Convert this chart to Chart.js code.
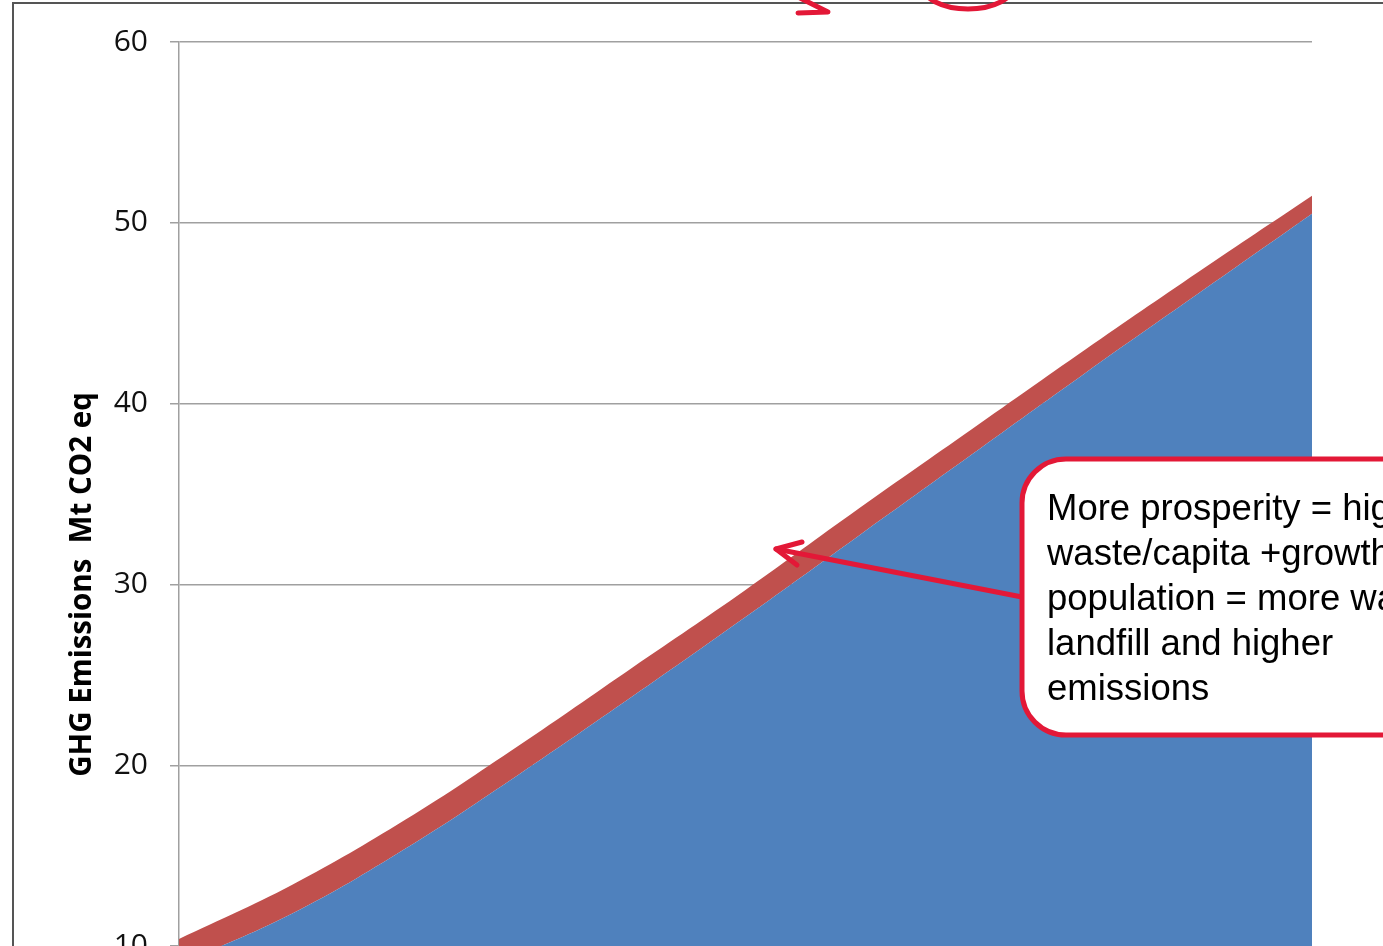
<!DOCTYPE html>
<html>
<head>
<meta charset="utf-8">
<script src="https://cdn.jsdelivr.net/npm/chart.js@4.4.1/dist/chart.umd.min.js"></script>
<style>
  body { margin: 0; overflow: hidden; background: #fff; }
  #wrap { position: absolute; left: 0; top: 0; width: 1383px; height: 946px; overflow: hidden; }
</style>
</head>
<body>
<div id="wrap"><canvas id="ghgChart" width="1383" height="1200"></canvas></div>
<script>
// Categories (x axis is cropped out of the picture)
const years = ['2000', '2005', '2010', '2015', '2020', '2025', '2030', '2035', '2040', '2045', '2050'];

// Stacked series, Mt CO2 eq
const landfillBase = [9.0, 11.8, 15.4, 19.5, 23.8, 28.2, 32.7, 37.2, 41.7, 46.1, 50.5];
const growthBand = [1.4, 1.6, 1.6, 1.6, 1.6, 1.5, 1.5, 1.4, 1.3, 1.2, 1.0];

const yMin = 0, yMax = 60, yStep = 10;
const yTitle = 'GHG Emissions  Mt CO2 eq';

const noteLines = [
  'More prosperity = higher',
  'waste/capita +growth in',
  'population = more waste to',
  'landfill and higher',
  'emissions'
];

const ctx = document.getElementById('ghgChart').getContext('2d');
const RED = '#e31837';

// frame, callout box, arrows drawn over the chart
const overlay = {
  id: 'overlay',
  afterDraw(chart) {
    const c = chart.ctx;
    c.save();

    // outer frame
    c.strokeStyle = '#555';
    c.lineWidth = 2;
    c.beginPath();
    c.moveTo(13, 1400);
    c.lineTo(13, 3);
    c.lineTo(1400, 3);
    c.stroke();

    c.strokeStyle = RED;
    c.lineCap = 'round';
    c.lineJoin = 'round';

    // bits of arrows cut off at the top
    c.lineWidth = 5;
    c.beginPath();
    c.moveTo(798, 13);
    c.lineTo(828, 12);
    c.lineTo(800, -2);
    c.stroke();
    c.beginPath();
    c.ellipse(968, -15, 46, 24, 0, 0, Math.PI * 2);
    c.stroke();

    // callout arrow
    c.beginPath();
    c.moveTo(1022, 597);
    c.lineTo(776, 549);
    c.stroke();
    c.beginPath();
    c.moveTo(802, 542);
    c.lineTo(776, 549);
    c.lineTo(797, 565);
    c.stroke();

    // callout box
    const bx = 1022, by = 459, bw = 520, bh = 276, r = 44;
    c.beginPath();
    c.moveTo(bx + r, by);
    c.lineTo(bx + bw - r, by);
    c.arcTo(bx + bw, by, bx + bw, by + r, r);
    c.lineTo(bx + bw, by + bh - r);
    c.arcTo(bx + bw, by + bh, bx + bw - r, by + bh, r);
    c.lineTo(bx + r, by + bh);
    c.arcTo(bx, by + bh, bx, by + bh - r, r);
    c.lineTo(bx, by + r);
    c.arcTo(bx, by, bx + r, by, r);
    c.closePath();
    c.fillStyle = '#fff';
    c.fill();
    c.lineWidth = 5;
    c.stroke();

    c.fillStyle = '#000';
    c.font = '36.5px "Liberation Sans", Arial, sans-serif';
    c.textBaseline = 'alphabetic';
    noteLines.forEach((line, i) => {
      c.fillText(line, 1047, 520 + i * 45);
    });

    c.restore();
  }
};

new Chart(ctx, {
  type: 'line',
  data: {
    labels: years,
    datasets: [{
      label: 'Base',
      data: landfillBase,
      backgroundColor: '#4f81bd',
      borderWidth: 0,
      pointRadius: 0,
      fill: 'origin',
      tension: 0.4
    }, {
      label: 'Growth',
      data: growthBand,
      backgroundColor: '#c0504d',
      borderWidth: 0,
      pointRadius: 0,
      fill: '-1',
      tension: 0.4
    }]
  },
  options: {
    responsive: false,
    animation: false,
    devicePixelRatio: 1,
    layout: { padding: { top: 42, right: 71, bottom: 0, left: 0 } },
    plugins: {
      legend: { display: false },
      tooltip: { enabled: false }
    },
    scales: {
      x: {
        offset: false,
        grid: { display: false },
        border: { display: false },
        ticks: { font: { family: 'Open Sans', size: 28 }, color: '#1a1a1a' },
        afterFit: s => { s.height = 73; }
      },
      y: {
        stacked: true,
        min: yMin,
        max: yMax,
        ticks: {
          stepSize: yStep,
          padding: 22,
          font: { family: 'Open Sans', size: 30 },
          color: '#111'
        },
        grid: { color: '#a0a0a0', lineWidth: 1.5, tickLength: 9 },
        border: { color: '#a0a0a0', width: 1.5 },
        title: {
          display: true,
          text: yTitle,
          color: '#000',
          font: { family: 'Open Sans', weight: 'bold', size: 29.5 },
          padding: { top: 65, bottom: 0 }
        },
        afterFit: s => { s.width = 179; }
      }
    }
  },
  plugins: [overlay]
});
</script>
</body>
</html>
